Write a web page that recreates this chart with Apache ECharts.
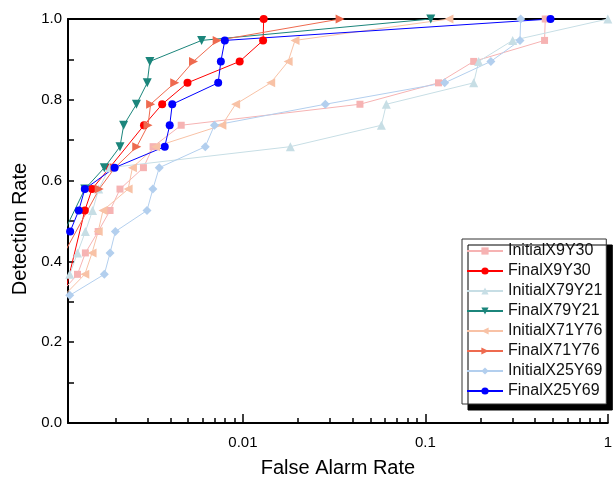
<!DOCTYPE html>
<html>
<head>
<meta charset="utf-8">
<script src="https://cdn.jsdelivr.net/npm/echarts@6/dist/echarts.min.js"></script>
<style>
  html, body { margin: 0; padding: 0; background: #fff; }
  #chart { width: 615px; height: 483px; }
</style>
</head>
<body>
<div id="chart"></div>
<script>
// ── Data (false alarm rate / detection rate) ──
const seriesNames = [
  'InitialX9Y30', 'FinalX9Y30', 'InitialX79Y21', 'FinalX79Y21',
  'InitialX71Y76', 'FinalX71Y76', 'InitialX25Y69', 'FinalX25Y69'
];

const initX9Y30X  = [0.00098, 0.00124, 0.00137, 0.00161, 0.00187, 0.00212, 0.00285, 0.00322, 0.00459, 0.0438, 0.118, 0.184, 0.45, 0.454];
const initX9Y30Y  = [0.316, 0.368, 0.421, 0.474, 0.526, 0.579, 0.632, 0.684, 0.737, 0.789, 0.842, 0.895, 0.947, 1.0];

const finX9Y30X   = [0.00105, 0.00136, 0.00149, 0.00186, 0.00287, 0.00361, 0.00497, 0.0096, 0.0129, 0.013];
const finX9Y30Y   = [0.316, 0.526, 0.579, 0.632, 0.737, 0.789, 0.842, 0.895, 0.947, 1.0];

const initX79Y21X = [0.001125, 0.00124, 0.00137, 0.0015, 0.00162, 0.00186, 0.0182, 0.0574, 0.0611, 0.184, 0.196, 0.301, 1.0];
const initX79Y21Y = [0.368, 0.421, 0.474, 0.526, 0.579, 0.632, 0.684, 0.737, 0.789, 0.842, 0.895, 0.947, 1.0];

const finX79Y21X  = [0.00105, 0.00136, 0.00174, 0.00212, 0.00222, 0.00261, 0.00299, 0.00309, 0.00594, 0.107];
const finX79Y21Y  = [0.474, 0.579, 0.632, 0.684, 0.737, 0.789, 0.842, 0.895, 0.947, 1.0];

const initX71Y76X = [0.00105, 0.00136, 0.00149, 0.00161, 0.00171, 0.00235, 0.00248, 0.00332, 0.00767, 0.00912, 0.0142, 0.0177, 0.0193, 0.1346];
const initX71Y76Y = [0.316, 0.368, 0.421, 0.474, 0.526, 0.579, 0.632, 0.684, 0.737, 0.789, 0.842, 0.895, 0.947, 1.0];

const finX71Y76X  = [0.00105, 0.00163, 0.00199, 0.00262, 0.00302, 0.00312, 0.00423, 0.00536, 0.00723, 0.0341];
const finX71Y76Y  = [0.421, 0.579, 0.632, 0.684, 0.737, 0.789, 0.842, 0.895, 0.947, 1.0];

const initX25Y69X = [0.001125, 0.00174, 0.00187, 0.002, 0.00298, 0.00321, 0.00348, 0.00622, 0.00698, 0.0283, 0.1276, 0.2285, 0.33, 0.333];
const initX25Y69Y = [0.316, 0.368, 0.421, 0.474, 0.526, 0.579, 0.632, 0.684, 0.737, 0.789, 0.842, 0.895, 0.947, 1.0];

const finX25Y69X  = [0.00113, 0.00126, 0.00136, 0.00198, 0.00373, 0.00397, 0.0041, 0.00732, 0.00757, 0.00796, 0.485];
const finX25Y69Y  = [0.474, 0.526, 0.579, 0.632, 0.684, 0.737, 0.789, 0.842, 0.895, 0.947, 1.0];

// ── Axis ticks ──
const xMin        = 0.0011;
const xMax        = 1;
const xLabelVals  = [0.01, 0.1, 1];
const xMinorVals  = [0.002, 0.003, 0.004, 0.005, 0.006, 0.007, 0.008, 0.009,
                     0.02, 0.03, 0.04, 0.05, 0.06, 0.07, 0.08, 0.09,
                     0.2, 0.3, 0.4, 0.5, 0.6, 0.7, 0.8, 0.9];

// ── Styles per series ──
const styles = [
  { color: '#f6b3b3', symbol: 'rect',     size: 7, rotate: 0 },
  { color: '#ff0000', symbol: 'circle',   size: 8, rotate: 0 },
  { color: '#c7dee5', symbol: 'triangle', size: 9, rotate: 0 },
  { color: '#1b857b', symbol: 'triangle', size: 9, rotate: 180 },
  { color: '#f8c2a6', symbol: 'triangle', size: 9, rotate: 90 },
  { color: '#ee6a4f', symbol: 'triangle', size: 9, rotate: -90 },
  { color: '#b3cfee', symbol: 'diamond',  size: 9, rotate: 0 },
  { color: '#0000ff', symbol: 'circle',   size: 8, rotate: 0 },
];

const xs = [initX9Y30X, finX9Y30X, initX79Y21X, finX79Y21X, initX71Y76X, finX71Y76X, initX25Y69X, finX25Y69X];
const ys = [initX9Y30Y, finX9Y30Y, initX79Y21Y, finX79Y21Y, initX71Y76Y, finX71Y76Y, initX25Y69Y, finX25Y69Y];

const FONT = "'Liberation Sans', Arial, sans-serif";

const chart = echarts.init(document.getElementById('chart'));

const series = seriesNames.map((name, i) => ({
  name,
  type: 'line',
  xAxisIndex: 0,
  data: xs[i].map((x, j) => [x, ys[i][j]]),
  symbol: styles[i].symbol,
  symbolSize: styles[i].size,
  symbolRotate: styles[i].rotate,
  showAllSymbol: true,
  clip: true,
  lineStyle: { color: styles[i].color, width: 1 },
  itemStyle: { color: styles[i].color },
  emphasis: { disabled: true },
  animation: false,
}));

chart.setOption({
  backgroundColor: '#ffffff',
  animation: false,
  grid: { left: 68, right: 1, top: 19, bottom: 57 },
  xAxis: [
    {
      type: 'log',
      min: xMin,
      max: xMax,
      position: 'bottom',
      name: 'False Alarm Rate',
      nameLocation: 'middle',
      nameGap: 35,
      nameTextStyle: { fontFamily: FONT, fontSize: 20, color: '#000' },
      axisLine: { show: true, lineStyle: { color: '#000', width: 2 } },
      axisTick: { show: true, inside: true, length: 5, customValues: xMinorVals,
                  lineStyle: { color: '#000', width: 1.5 } },
      axisLabel: { show: true, customValues: xLabelVals, margin: 12,
                   fontFamily: FONT, fontSize: 15, color: '#000',
                   formatter: v => String(+Number(v).toPrecision(3)) },
      splitLine: { show: false },
    },
    {
      type: 'log',
      min: xMin,
      max: xMax,
      position: 'bottom',
      axisLine: { show: false },
      axisTick: { show: true, inside: true, length: 9, customValues: xLabelVals,
                  lineStyle: { color: '#000', width: 1.5 } },
      axisLabel: { show: false },
      splitLine: { show: false },
    },
    {
      type: 'log',
      min: xMin,
      max: xMax,
      position: 'top',
      axisLine: { show: true, lineStyle: { color: '#000', width: 2 } },
      axisTick: { show: false },
      axisLabel: { show: false },
      splitLine: { show: false },
    },
  ],
  yAxis: {
    type: 'value',
    min: 0,
    max: 1,
    interval: 0.2,
    name: 'Detection Rate',
    nameLocation: 'middle',
    nameGap: 37,
    nameTextStyle: { fontFamily: FONT, fontSize: 20, color: '#000', padding: [0, 16, 0, 0] },
    axisLine: { show: true, lineStyle: { color: '#000', width: 2 } },
    axisTick: { show: true, inside: true, length: 6, lineStyle: { color: '#000', width: 1.5 } },
    minorTick: { show: true, splitNumber: 2, length: 6, lineStyle: { color: '#000', width: 1.5 } },
    axisLabel: { margin: 6, fontFamily: FONT, fontSize: 15, color: '#000',
                 formatter: v => v.toFixed(1) },
    splitLine: { show: false },
  },
  legend: {
    orient: 'vertical',
    left: 462,
    top: 239,
    padding: [4, 4, 5, 4],
    itemWidth: 36,
    itemHeight: 9,
    itemGap: 4,
    backgroundColor: '#ffffff',
    borderColor: '#333',
    borderWidth: 1,
    shadowColor: '#000',
    shadowBlur: 0,
    shadowOffsetX: 6,
    shadowOffsetY: 6,
    textStyle: { fontFamily: FONT, fontSize: 16, color: '#111' },
    selectedMode: false,
    data: seriesNames,
  },
  series,
});
</script>
</body>
</html>
